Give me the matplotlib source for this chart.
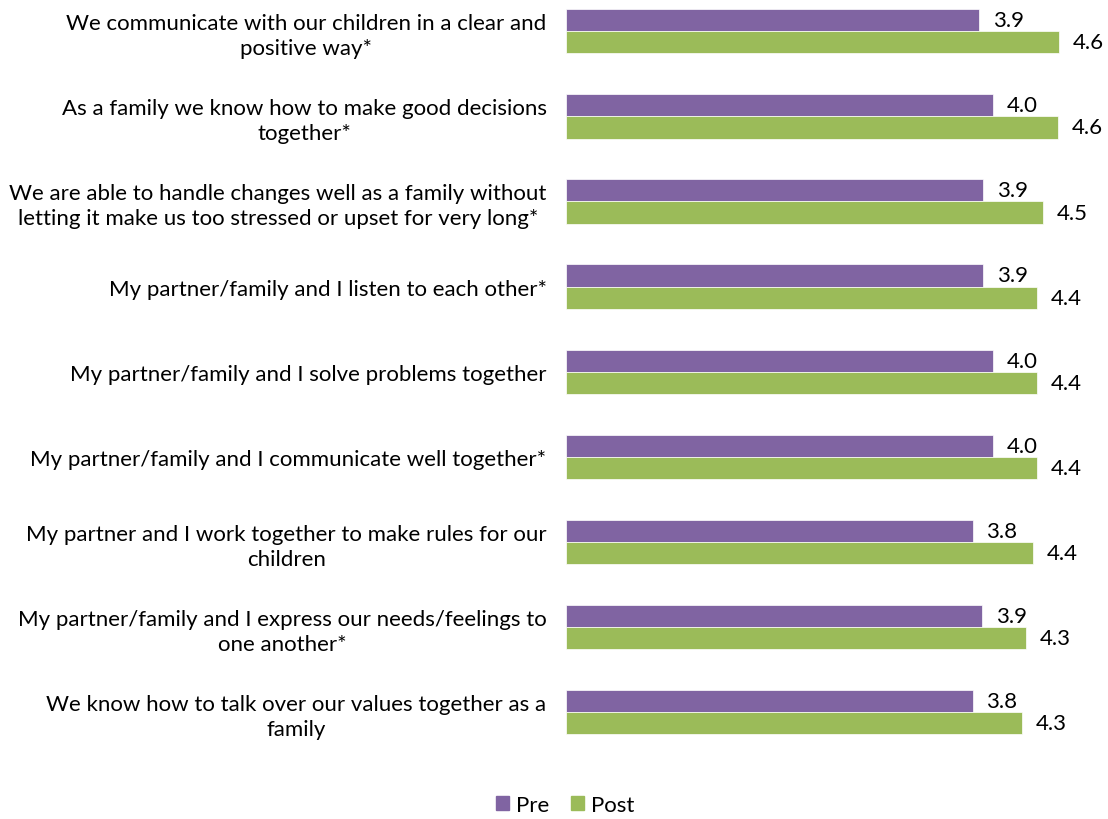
import matplotlib.pyplot as plt
import numpy as np
from matplotlib.patches import Patch

plt.rcParams['font.family'] = ['Lato', 'DejaVu Sans']

items = [
    "We communicate with our children in a clear and\npositive way*",
    "As a family we know how to make good decisions\ntogether*",
    "We are able to handle changes well as a family without\nletting it make us too stressed or upset for very long*",
    "My partner/family and I listen to each other*",
    "My partner/family and I solve problems together",
    "My partner/family and I communicate well together*",
    "My partner and I work together to make rules for our\nchildren",
    "My partner/family and I express our needs/feelings to\none another*",
    "We know how to talk over our values together as a\nfamily",
]
pre = [3.86, 3.99, 3.90, 3.90, 3.99, 3.99, 3.80, 3.89, 3.80]
post = [4.61, 4.60, 4.46, 4.40, 4.40, 4.40, 4.36, 4.30, 4.26]

purple = '#8064A2'
green = '#9BBB59'

fig = plt.figure(figsize=(11.08, 8.2), dpi=100)
ax = fig.add_axes([566 / 1108, 0.0787, 535 / 1108, 0.9213])

y = np.arange(len(items))
h = 0.26
ax.barh(y - h / 2, pre, height=h, color=purple, edgecolor='white', linewidth=0.5)
ax.barh(y + h / 2, post, height=h, color=green, edgecolor='white', linewidth=0.5)

for i in range(len(items)):
    ax.text(pre[i] + 0.13, y[i] - h / 2, f"{pre[i]:.1f}", va='center', ha='left', fontsize=16)
    ax.text(post[i] + 0.13, y[i] + h / 2, f"{post[i]:.1f}", va='center', ha='left', fontsize=16)

ax.set_xlim(0, 5)
ax.set_ylim(8.5, -0.38)
ax.set_yticks(y)
ax.set_yticklabels(items, fontsize=16, ha='right', multialignment='center', linespacing=1.3)
ax.tick_params(axis='y', length=0, pad=14)
ax.set_xticks([])
for s in ax.spines.values():
    s.set_visible(False)

handles = [Patch(color=purple, label='Pre'), Patch(color=green, label='Post')]
fig.legend(handles=handles, loc='center', bbox_to_anchor=(565 / 1108, 1 - 806 / 820),
           ncol=2, frameon=False, fontsize=16, handlelength=0.6, handleheight=0.6,
           handletextpad=0.3, columnspacing=1.0)

fig.savefig('out.png', dpi=100)
